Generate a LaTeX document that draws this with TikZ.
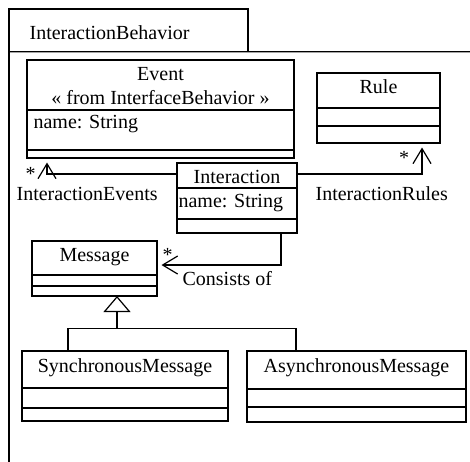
\documentclass[tikz,border=0pt]{standalone}
\usepackage{fontspec}
\setmainfont{Liberation Serif}
\usetikzlibrary{arrows.meta}
\begin{document}
\begin{tikzpicture}[x=1pt,y=-1pt,line width=1.2pt,
  box/.style={draw,line width=1.2pt,rectangle,inner sep=0pt,outer sep=0pt},
  txt/.style={inner sep=0pt,anchor=base,font=\fontsize{20}{23}\selectfont},
  ltxt/.style={txt,anchor=base west},
  assoc/.style={-{Straight Barb[length=15pt,width=18pt,line width=1.2pt]},shorten >=4.5pt},
  gen/.style={-{Triangle[open,length=16pt,width=27pt,line width=1.2pt]}}]
\useasboundingbox (0,0) rectangle (470,461);
% package
\node[box,anchor=north west,minimum width=239pt,minimum height=42.7pt] (tab) at (9,9) {};
\node[ltxt] (tabname) at (29,39) {InteractionBehavior};
\coordinate (pkgbl) at (9,475);
\coordinate (pkgtr) at (480,51.7);
\draw (tab.south west) -- (pkgbl);
\draw (tab.south west) -- (pkgtr);
% Event
\node[box,anchor=north west,minimum width=267pt,minimum height=98pt] (event) at (27,60) {};
\draw (27,110) -- (294,110);
\draw (27,150) -- (294,150);
\node[txt] (eventname) at (160.5,80) {Event};
\node[txt] (eventst) at (160.5,104) {« from InterfaceBehavior »};
\node[ltxt] (eventattr) at (33,128) {name: String};
% Rule
\node[box,anchor=north west,minimum width=123pt,minimum height=70pt] (rule) at (317,73) {};
\draw (317,108) -- (440,108);
\draw (317,126) -- (440,126);
\node[txt] (rulename) at (378.5,93.5) {Rule};
% Interaction
\node[box,anchor=north west,minimum width=120pt,minimum height=70pt] (inter) at (177,163) {};
\draw (177,188) -- (297,188);
\draw (177,219) -- (297,219);
\node[txt] (intername) at (237,183) {Interaction};
\node[ltxt] (interattr) at (178,207.5) {name: String};
% Message
\node[box,anchor=north west,minimum width=125pt,minimum height=55pt] (msg) at (32,241) {};
\draw (32,275) -- (157,275);
\draw (32,286) -- (157,286);
\node[txt] (msgname) at (94.5,261.5) {Message};
% Synchronous
\node[box,anchor=north west,minimum width=206pt,minimum height=70pt] (sync) at (22,351) {};
\draw (22,388) -- (228,388);
\draw (22,408) -- (228,408);
\node[txt] (syncname) at (125,372) {SynchronousMessage};
% Asynchronous
\node[box,anchor=north west,minimum width=219pt,minimum height=71pt] (async) at (247,351) {};
\draw (247,389) -- (466,389);
\draw (247,407) -- (466,407);
\node[txt] (asyncname) at (356.5,372) {AsynchronousMessage};
% associations
\coordinate (ie) at (47,174);
\draw[assoc] (inter.west |- ie) -- (ie) -- (ie |- event.south);
\coordinate (ir) at (422,174);
\draw[assoc] (inter.east |- ir) -- (ir) -- (ir |- rule.south);
\coordinate (co) at (281,265);
\draw[assoc] (co |- inter.south) -- (co) -- (co -| msg.east);
% labels
\node[txt] (s1) at (30.5,180) {*};
\node[ltxt] (l1) at (16,200) {InteractionEvents};
\node[txt] (s2) at (404,164) {*};
\node[ltxt] (l2) at (315,200) {InteractionRules};
\node[txt] (s3) at (167.5,261) {*};
\node[ltxt] (l3) at (182,285) {Consists of};
% generalization
\coordinate (gj) at (117,328.5);
\coordinate (gl) at (68,328.5);
\coordinate (gr) at (296,328.5);
\draw (gl |- sync.north) -- (gl) -- (gr) -- (gr |- async.north);
\draw[gen] (gj) -- (gj |- msg.south);
\end{tikzpicture}
\end{document}
